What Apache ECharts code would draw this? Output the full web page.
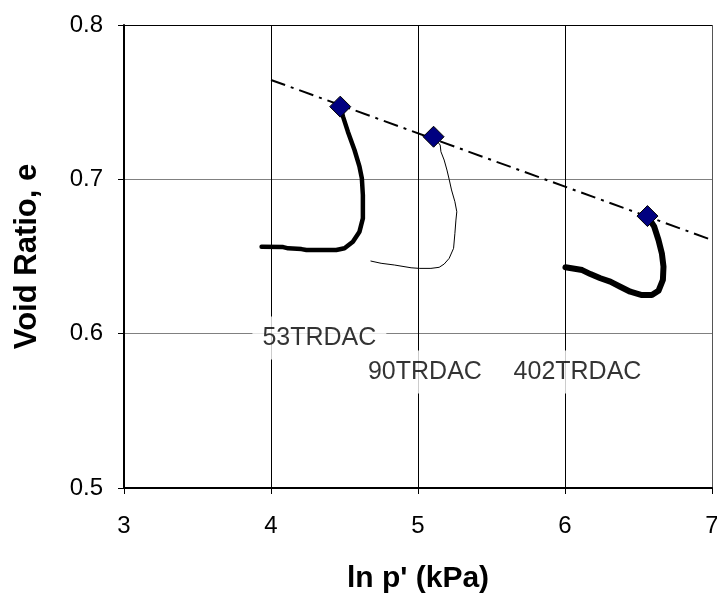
<!DOCTYPE html>
<html>
<head>
<meta charset="utf-8">
<script src="https://cdn.jsdelivr.net/npm/echarts@6/dist/echarts.min.js"></script>
<style>
html,body{margin:0;padding:0;background:#fff;overflow:hidden;}
#chart{width:717px;height:601px;}
</style>
</head>
<body>
<div id="chart"></div>
<script>
// ---- data ----
var xTicks = [3, 4, 5, 6, 7];
var yTicks = [0.5, 0.6, 0.7, 0.8];

var s53X = [4.471, 4.490, 4.523, 4.568, 4.602, 4.618, 4.625, 4.625, 4.602, 4.557, 4.500, 4.444, 4.342, 4.241, 4.207, 4.117, 4.083, 3.936];
var s53Y = [0.7471, 0.7406, 0.7309, 0.7190, 0.7082, 0.7007, 0.6898, 0.6747, 0.6661, 0.6596, 0.6553, 0.6542, 0.6542, 0.6542, 0.6548, 0.6553, 0.6561, 0.6563];

var s90X = [5.106, 5.151, 5.156, 5.178, 5.197, 5.212, 5.228, 5.251, 5.264, 5.258, 5.251, 5.242, 5.212, 5.178, 5.144, 5.088, 5.009, 4.953, 4.839, 4.749, 4.677];
var s90Y = [0.7276, 0.7222, 0.7179, 0.7125, 0.7060, 0.7000, 0.6931, 0.6855, 0.6790, 0.6736, 0.6650, 0.6553, 0.6488, 0.6451, 0.6430, 0.6423, 0.6423, 0.6427, 0.6445, 0.6456, 0.6471];

var s402X = [6.561, 6.607, 6.636, 6.659, 6.670, 6.666, 6.636, 6.591, 6.523, 6.444, 6.376, 6.308, 6.241, 6.173, 6.117, 6.003];
var s402Y = [0.6762, 0.6693, 0.6607, 0.6520, 0.6434, 0.6348, 0.6278, 0.6250, 0.6250, 0.6272, 0.6304, 0.6337, 0.6359, 0.6386, 0.6412, 0.6430];

var cslX = [4.0, 7.0];
var cslY = [0.7644, 0.6607];

var startX = [4.471, 5.106, 6.561];
var startY = [0.7471, 0.7276, 0.6762];

var labelNames = ['53TRDAC', '90TRDAC', '402TRDAC'];
var labelX = [4.329, 5.047, 6.085];
var labelY = [0.5972, 0.5751, 0.5751];

function zip(xs, ys) { return xs.map(function (x, i) { return [x, ys[i]]; }); }

var FONT = '"Liberation Sans", Arial, sans-serif';
var chart = echarts.init(document.getElementById('chart'), null, {renderer: 'canvas', width: 717, height: 601});
chart.setOption({
  animation: false,
  backgroundColor: '#fff',
  grid: {left: 124, right: 5, top: 25, bottom: 113, containLabel: false, outerBoundsMode: 'none'},
  xAxis: {
    type: 'value', min: xTicks[0], max: xTicks[xTicks.length - 1], interval: 1,
    name: "ln p' (kPa)", nameLocation: 'middle', nameGap: 76,
    nameTextStyle: {fontFamily: FONT, fontWeight: 'bold', fontSize: 30, color: '#000'},
    axisLine: {onZero: false, lineStyle: {color: '#000', width: 2}},
    axisTick: {show: true, inside: false, length: 6, lineStyle: {color: '#000'}},
    axisLabel: {fontFamily: FONT, fontSize: 24, color: '#000', margin: 26},
    splitLine: {show: true, lineStyle: {color: ['#000', '#000', '#000', '#000', '#555'], width: 1}}
  },
  yAxis: {
    type: 'value', min: yTicks[0], max: yTicks[yTicks.length - 1], interval: 0.1,
    name: 'Void Ratio, e', nameLocation: 'middle', nameGap: 81, nameRotate: 90,
    nameTextStyle: {fontFamily: FONT, fontWeight: 'bold', fontSize: 31, color: '#000'},
    axisLine: {onZero: false, lineStyle: {color: '#000', width: 2}},
    axisTick: {show: true, inside: false, length: 6, lineStyle: {color: '#000'}},
    axisLabel: {fontFamily: FONT, fontSize: 24, color: '#000', margin: 21,
      formatter: function (v) { return v.toFixed(1); }},
    splitLine: {show: true, lineStyle: {color: ['#808080', '#808080', '#808080', '#000'], width: 1}}
  },
  series: [
    {type: 'line', data: zip(s53X, s53Y), showSymbol: false, symbol: 'none',
      lineStyle: {color: '#000', width: 4.5, join: 'round', cap: 'round'}, z: 3},
    {type: 'line', data: zip(s90X, s90Y), showSymbol: false, symbol: 'none',
      lineStyle: {color: '#000', width: 1}, z: 3},
    {type: 'line', data: zip(s402X, s402Y), showSymbol: false, symbol: 'none',
      lineStyle: {color: '#000', width: 6, join: 'round', cap: 'round'}, z: 3},
    {type: 'line', data: zip(cslX, cslY), showSymbol: false, symbol: 'none',
      lineStyle: {color: '#000', width: 2, type: [15, 6, 3, 6]}, z: 4},
    {type: 'scatter', data: zip(startX, startY), symbol: 'diamond', symbolSize: 21,
      itemStyle: {color: '#000080', borderColor: '#000', borderWidth: 1, opacity: 1}, z: 5},
    {type: 'scatter', symbolSize: 0, z: 6,
      data: labelNames.map(function (n, i) { return {name: n, value: [labelX[i], labelY[i]]}; }),
      label: {show: true, position: 'inside', formatter: '{b}', fontFamily: FONT, fontSize: 25,
        color: '#000', backgroundColor: '#fff', padding: [9, 10]}}
  ]
});
</script>
</body>
</html>
